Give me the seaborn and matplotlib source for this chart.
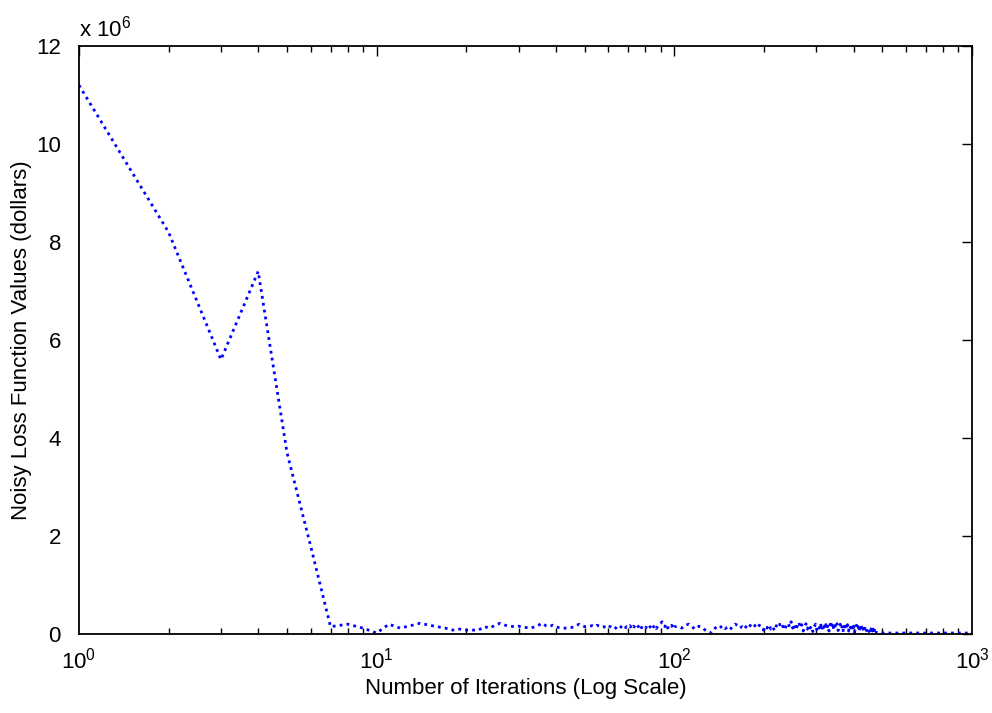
import numpy as np
import pandas as pd
import matplotlib
matplotlib.use("Agg")
import matplotlib.pyplot as plt
import seaborn as sns
from matplotlib.ticker import FixedLocator, LogLocator, FuncFormatter, NullFormatter

# ---------------- data (loss values in millions of dollars) ----------------
iter_a = list(range(1, 101))
loss_a = [11.2, 8.2, 5.6, 7.4, 3.7, 1.8, 0.15, 0.2, 0.12, 0.02,
          0.2, 0.12, 0.17, 0.22, 0.18, 0.15, 0.12, 0.08, 0.1, 0.08,
          0.08, 0.08, 0.15, 0.12, 0.18, 0.22, 0.18, 0.16, 0.15, 0.16,
          0.14, 0.13, 0.12, 0.15, 0.18, 0.22, 0.17, 0.15, 0.18, 0.15,
          0.13, 0.12, 0.12, 0.12, 0.13, 0.15, 0.18, 0.2, 0.17, 0.15,
          0.16, 0.16, 0.17, 0.15, 0.18, 0.16, 0.14, 0.15, 0.12, 0.16,
          0.15, 0.12, 0.1, 0.14, 0.18, 0.15, 0.12, 0.09, 0.15, 0.13,
          0.17, 0.1, 0.16, 0.12, 0.18, 0.14, 0.08, 0.16, 0.13, 0.11,
          0.17, 0.12, 0.15, 0.09, 0.14, 0.18, 0.11, 0.16, 0.2, 0.22,
          0.25, 0.19, 0.15, 0.2, 0.12, 0.16, 0.14, 0.18, 0.1, 0.15]

iter_b = list(range(103, 479, 3))
loss_b = [0.15, 0.12, 0.18, 0.2, 0.14, 0.1, 0.16, 0.13, 0.08, 0.04,
          0.02, 0.1, 0.15, 0.12, 0.17, 0.11, 0.14, 0.09, 0.16, 0.2,
          0.18, 0.12, 0.15, 0.1, 0.17, 0.13, 0.2, 0.22, 0.16, 0.12,
          0.18, 0.14, 0.08, 0.16, 0.12, 0.19, 0.1, 0.15, 0.07, 0.17,
          0.13, 0.2, 0.11, 0.16, 0.09, 0.18, 0.22, 0.14, 0.25, 0.12,
          0.2, 0.08, 0.17, 0.24, 0.13, 0.19, 0.06, 0.15, 0.21, 0.1,
          0.18, 0.12, 0.16, 0.05, 0.14, 0.2, 0.09, 0.17, 0.12, 0.22,
          0.08, 0.19, 0.14, 0.24, 0.1, 0.18, 0.06, 0.2, 0.13, 0.23,
          0.09, 0.17, 0.12, 0.21, 0.07, 0.16, 0.2, 0.1, 0.18, 0.04,
          0.15, 0.22, 0.11, 0.19, 0.06, 0.17, 0.13, 0.2, 0.08, 0.16,
          0.03, 0.12, 0.18, 0.1, 0.15, 0.05, 0.13, 0.19, 0.09, 0.14,
          0.04, 0.11, 0.16, 0.07, 0.13, 0.1, 0.05, 0.12, 0.08, 0.14,
          0.06, 0.1, 0.03, 0.12, 0.07, 0.02]

iter_c = [490, 550, 650, 800, 1000]
loss_c = [0.02, 0.02, 0.02, 0.02, 0.02]

y_ticks = [0, 2, 4, 6, 8, 10, 12]
x_ticks = [1, 10, 100, 1000]

iterations = iter_a + iter_b + iter_c
loss_millions = loss_a + loss_b + loss_c
df = pd.DataFrame({"iteration": iterations,
                   "loss": np.array(loss_millions) * 1e6})

# ---------------- style ----------------
sns.set_theme(style="white")
plt.rcParams["font.family"] = ["Liberation Sans", "DejaVu Sans"]
plt.rcParams["mathtext.fontset"] = "custom"
plt.rcParams["mathtext.rm"] = "Liberation Sans"
plt.rcParams["mathtext.it"] = "Liberation Sans"
plt.rcParams["mathtext.bf"] = "Liberation Sans"

FS = 16

fig = plt.figure(figsize=(9.92, 7.13), dpi=100)
ax = fig.add_axes([0.0796, 0.1108, 0.9002, 0.8247])

sns.lineplot(data=df, x="iteration", y="loss", ax=ax, color="#0000ff",
             linewidth=2.0, estimator=None)
ax.lines[0].set_linestyle((0, (1.0, 1.5)))

ax.set_xscale("log")
ax.set_xlim(1, 1000)
ax.set_ylim(0, 12e6)

ax.xaxis.set_major_locator(FixedLocator(x_ticks))
ax.xaxis.set_minor_locator(LogLocator(base=10, subs=np.arange(2, 10), numticks=20))
ax.xaxis.set_minor_formatter(NullFormatter())
ax.xaxis.set_major_formatter(FuncFormatter(lambda v, p: r"$10^{%d}$" % int(round(np.log10(v)))))
ax.yaxis.set_major_locator(FixedLocator([t * 1e6 for t in y_ticks]))
ax.yaxis.set_major_formatter(FuncFormatter(lambda v, p: "%d" % round(v / 1e6)))

for s in ax.spines.values():
    s.set_color("black")
    s.set_linewidth(1.3)

ax.tick_params(axis="both", which="major", direction="in", length=7, width=1.0,
               top=True, right=True, labelsize=FS, colors="black")
ax.tick_params(axis="y", which="major", pad=13)
ax.tick_params(axis="x", which="major", pad=10)
ax.tick_params(axis="x", which="minor", direction="in", length=4, width=1.0,
               top=True, bottom=True, colors="black")

ax.set_xlabel("Number of Iterations (Log Scale)", fontsize=FS, color="black", labelpad=3)
ax.set_ylabel("Noisy Loss Function Values (dollars)", fontsize=FS, color="black", labelpad=3)

ax.text(0.0, 1.008, r"x 10$^{6}$", transform=ax.transAxes, ha="left", va="bottom",
        fontsize=FS, color="black")

fig.savefig("out.png", dpi=100, facecolor="white")
